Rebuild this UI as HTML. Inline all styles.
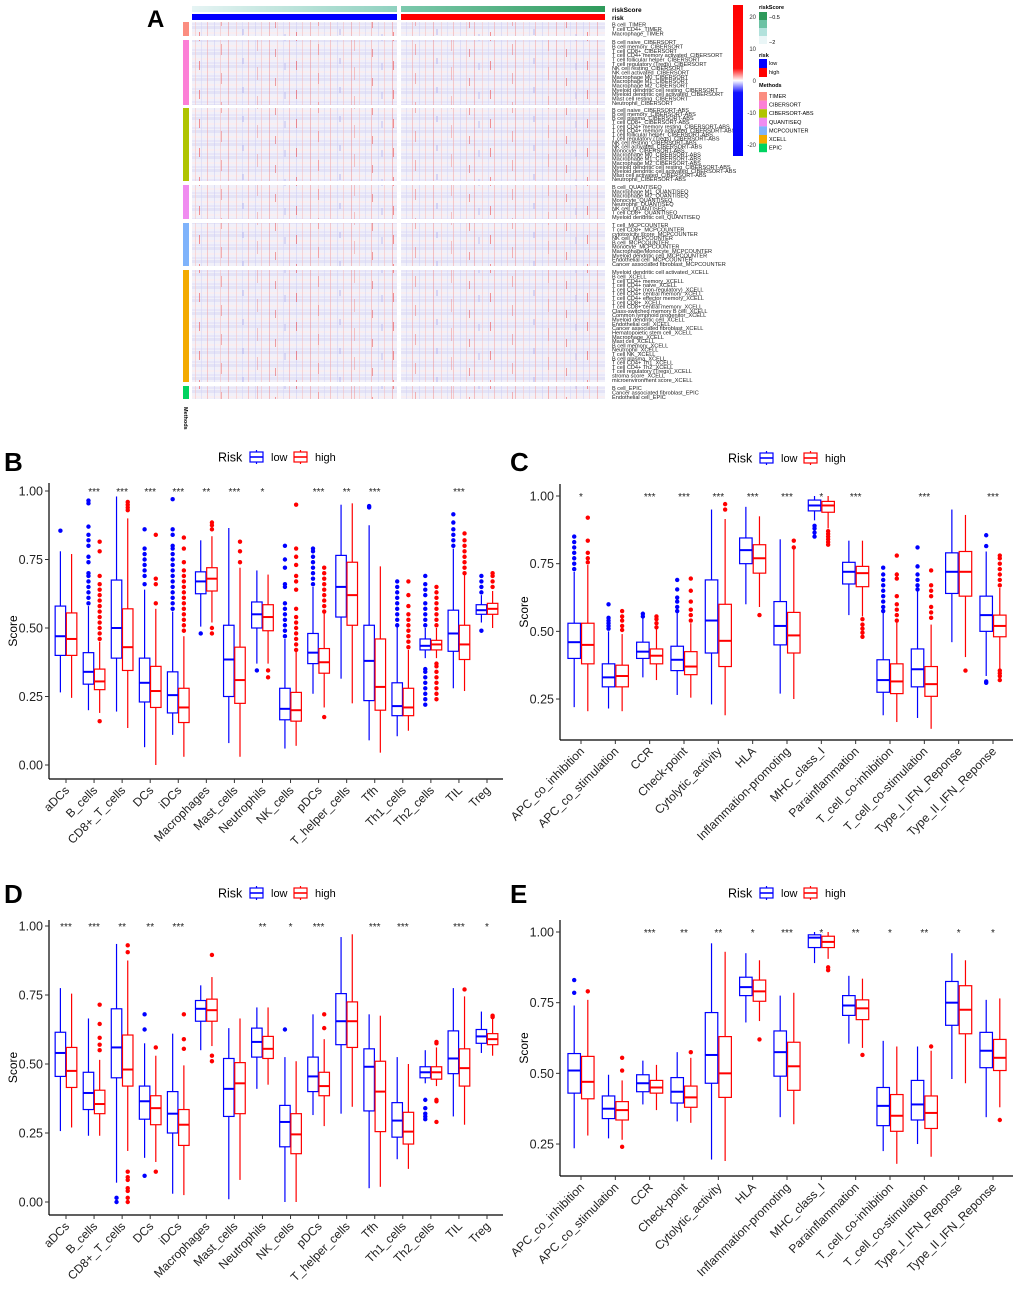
<!DOCTYPE html>
<html><head><meta charset="utf-8"><style>
body{margin:0;background:#fff;}
svg{display:block;font-family:"Liberation Sans",Arial,sans-serif;}
</style></head><body>
<svg id="fig" width="1020" height="1292" viewBox="0 0 1020 1292" xmlns="http://www.w3.org/2000/svg">
<defs>
<pattern id="hmRows" width="10" height="13" patternUnits="userSpaceOnUse">
<rect width="10" height="13" fill="#f1f0f9"/>
<rect y="0" width="10" height="3" fill="#e4e3f6"/>
<rect y="6" width="10" height="2" fill="#f8eef2"/>
<rect y="10" width="10" height="2" fill="#e8e6f8"/>
</pattern>
<pattern id="hmA" width="41" height="400" patternUnits="userSpaceOnUse">
<rect x="2" width="1" height="400" fill="#f3a5a5" opacity="0.55"/>
<rect x="9" width="1" height="400" fill="#c9c9f3" opacity="0.5"/>
<rect x="15" width="1" height="400" fill="#f6b8b8" opacity="0.5"/>
<rect x="23" width="1" height="400" fill="#ef8080" opacity="0.45"/>
<rect x="31" width="1" height="400" fill="#f7c6c6" opacity="0.6"/>
<rect x="37" width="1" height="400" fill="#d2d2f5" opacity="0.5"/>
</pattern>
<pattern id="hmB" width="97" height="29" patternUnits="userSpaceOnUse">
<rect x="5" y="3" width="1" height="9" fill="#ee5050" opacity="0.6"/>
<rect x="27" y="15" width="1" height="11" fill="#f07070" opacity="0.5"/>
<rect x="48" y="0" width="2" height="6" fill="#b8b8f0" opacity="0.5"/>
<rect x="63" y="9" width="1" height="13" fill="#f29090" opacity="0.5"/>
<rect x="81" y="20" width="1" height="8" fill="#e84a4a" opacity="0.5"/>
<rect x="90" y="5" width="2" height="7" fill="#c0c0f2" opacity="0.5"/>
</pattern>
<linearGradient id="rs1" x1="0" x2="1"><stop offset="0" stop-color="#e6f4f4"/><stop offset="1" stop-color="#8fd1bf"/></linearGradient>
<linearGradient id="rs2" x1="0" x2="1"><stop offset="0" stop-color="#7cc9ad"/><stop offset="1" stop-color="#2e9a5a"/></linearGradient>
<linearGradient id="cb" x1="0" y1="0" x2="0" y2="1"><stop offset="0" stop-color="#ff0000"/><stop offset="0.42" stop-color="#ff1010"/><stop offset="0.5" stop-color="#ffffff"/><stop offset="0.58" stop-color="#1010ff"/><stop offset="1" stop-color="#0000ff"/></linearGradient>
</defs>
<g id="panelA"></g>
<g id="panelB"></g>
<g id="panelC"></g>
<g id="panelD"></g>
<g id="panelE"></g>
</svg>
<script>
// ---------- Data ----------
const catsCells = ["aDCs","B_cells","CD8+_T_cells","DCs","iDCs","Macrophages","Mast_cells","Neutrophils","NK_cells","pDCs","T_helper_cells","Tfh","Th1_cells","Th2_cells","TIL","Treg"];
const catsFunc = ["APC_co_inhibition","APC_co_stimulation","CCR","Check-point","Cytolytic_activity","HLA","Inflammation-promoting","MHC_class_I","Parainflammation","T_cell_co-inhibition","T_cell_co-stimulation","Type_I_IFN_Reponse","Type_II_IFN_Reponse"];

const lowB = [[0.265,0.40,0.47,0.58,0.78],[0.20,0.295,0.34,0.41,0.58],[0.195,0.39,0.50,0.675,0.98],[0.065,0.23,0.30,0.39,0.64],[0.11,0.19,0.255,0.34,0.56],[0.505,0.625,0.67,0.705,0.82],[0.08,0.25,0.385,0.51,0.865],[0.37,0.50,0.55,0.595,0.71],[0.06,0.165,0.205,0.28,0.46],[0.26,0.37,0.41,0.48,0.65],[0.315,0.54,0.65,0.765,0.95],[0.09,0.235,0.38,0.51,0.875],[0.105,0.18,0.215,0.30,0.505],[0.39,0.42,0.435,0.46,0.50],[0.28,0.415,0.48,0.565,0.79],[0.52,0.55,0.565,0.585,0.62]];
const highB = [[0.245,0.40,0.46,0.555,0.77],[0.19,0.275,0.305,0.35,0.45],[0.135,0.345,0.43,0.57,0.90],[0.0,0.21,0.27,0.36,0.57],[0.03,0.155,0.21,0.28,0.47],[0.52,0.635,0.68,0.72,0.835],[0.03,0.225,0.31,0.43,0.72],[0.37,0.49,0.54,0.585,0.695],[0.07,0.16,0.20,0.265,0.415],[0.21,0.335,0.375,0.425,0.555],[0.225,0.51,0.62,0.74,0.955],[0.045,0.20,0.285,0.46,0.725],[0.125,0.18,0.21,0.28,0.42],[0.39,0.42,0.44,0.455,0.50],[0.27,0.385,0.44,0.51,0.695],[0.50,0.55,0.57,0.59,0.635]];
const lowOutB = [[0.855],[0.59,0.61,0.63,0.65,0.67,0.69,0.70,0.74,0.76,0.80,0.82,0.84,0.87,0.955,0.965],[],[0.66,0.69,0.71,0.73,0.75,0.77,0.79,0.86],[0.57,0.59,0.61,0.63,0.65,0.67,0.69,0.71,0.73,0.75,0.77,0.79,0.80,0.84,0.86,0.97],[0.48],[],[0.345],[0.47,0.49,0.51,0.53,0.55,0.57,0.59,0.65,0.66,0.72,0.75,0.80],[0.66,0.68,0.70,0.72,0.74,0.76,0.78,0.79],[],[0.94,0.945],[0.51,0.53,0.55,0.57,0.59,0.61,0.63,0.65,0.67],[0.22,0.24,0.26,0.28,0.30,0.32,0.34,0.35,0.51,0.53,0.55,0.57,0.59,0.62,0.64,0.66,0.69],[0.80,0.82,0.84,0.86,0.885,0.915],[0.49,0.63,0.65,0.67,0.69]];
const highOutB = [[],[0.16,0.46,0.48,0.50,0.52,0.54,0.56,0.58,0.60,0.62,0.64,0.66,0.69,0.78,0.815],[0.93,0.94,0.95,0.96],[0.59,0.66,0.68,0.84],[0.49,0.51,0.53,0.55,0.57,0.59,0.61,0.63,0.65,0.67,0.69,0.71,0.74,0.79,0.83],[0.48,0.50,0.86,0.875,0.885],[0.74,0.78,0.815],[0.345,0.32],[0.42,0.44,0.46,0.48,0.50,0.52,0.54,0.57,0.64,0.67,0.69,0.73,0.76,0.79,0.95],[0.175,0.56,0.58,0.60,0.62,0.64,0.66,0.68,0.70,0.72],[],[],[0.43,0.45,0.47,0.49,0.51,0.53,0.55,0.58,0.62,0.67],[0.24,0.26,0.28,0.30,0.32,0.34,0.36,0.37,0.51,0.53,0.55,0.57,0.59,0.61,0.63,0.65],[0.70,0.72,0.74,0.76,0.78,0.80,0.82,0.845],[0.65,0.67,0.69,0.70]];
const starsB = ["","***","***","***","***","**","***","*","","***","**","***","","","***",""];

const lowC = [[0.22,0.40,0.46,0.53,0.72],[0.215,0.295,0.33,0.38,0.50],[0.33,0.40,0.425,0.46,0.55],[0.265,0.355,0.395,0.445,0.57],[0.23,0.42,0.54,0.69,0.95],[0.60,0.75,0.80,0.845,0.96],[0.27,0.45,0.52,0.61,0.84],[0.91,0.945,0.965,0.985,1.0],[0.56,0.675,0.72,0.755,0.835],[0.19,0.275,0.32,0.395,0.57],[0.18,0.295,0.36,0.435,0.65],[0.46,0.64,0.72,0.79,0.95],[0.335,0.50,0.56,0.63,0.795]];
const highC = [[0.205,0.38,0.45,0.53,0.745],[0.205,0.295,0.335,0.375,0.49],[0.32,0.38,0.41,0.435,0.51],[0.255,0.34,0.37,0.425,0.53],[0.19,0.37,0.465,0.60,0.915],[0.59,0.715,0.77,0.82,0.925],[0.25,0.42,0.485,0.57,0.805],[0.88,0.94,0.965,0.98,1.0],[0.555,0.665,0.715,0.74,0.835],[0.165,0.27,0.315,0.38,0.535],[0.14,0.26,0.305,0.37,0.525],[0.405,0.63,0.72,0.795,0.93],[0.36,0.48,0.52,0.56,0.66]];
const lowOutC = [[0.73,0.75,0.77,0.79,0.81,0.83,0.85],[0.51,0.52,0.53,0.54,0.55,0.60],[0.555,0.565],[0.575,0.59,0.61,0.625,0.655,0.69],[],[],[],[0.85,0.865,0.88,0.89],[],[0.575,0.59,0.61,0.63,0.65,0.67,0.69,0.71,0.735],[0.655,0.67,0.69,0.71,0.74,0.81],[],[0.31,0.315,0.815,0.855]];
const highOutC = [[0.755,0.77,0.79,0.835,0.92],[0.505,0.52,0.54,0.555,0.575],[0.515,0.53,0.545,0.555],[0.54,0.56,0.58,0.61,0.65,0.695],[0.95,0.97],[0.56],[0.81,0.835],[0.82,0.83,0.84,0.85,0.86,0.87],[0.48,0.495,0.51,0.525,0.545],[0.54,0.56,0.58,0.60,0.63,0.695,0.71,0.78],[0.55,0.57,0.59,0.63,0.65,0.67,0.725],[0.355],[0.32,0.335,0.345,0.355,0.67,0.69,0.71,0.73,0.75,0.77,0.78]];
const starsC = ["*","","***","***","***","***","***","*","***","","***","","***"];

const lowD = [[0.257,0.455,0.54,0.615,0.775],[0.24,0.335,0.395,0.47,0.665],[0.07,0.45,0.56,0.70,0.935],[0.16,0.30,0.365,0.42,0.575],[0.03,0.25,0.32,0.40,0.61],[0.55,0.655,0.70,0.73,0.785],[0.01,0.31,0.41,0.52,0.63],[0.41,0.525,0.58,0.63,0.705],[0.0,0.20,0.29,0.35,0.525],[0.315,0.40,0.455,0.525,0.68],[0.32,0.57,0.655,0.755,0.96],[0.05,0.33,0.49,0.555,0.68],[0.155,0.235,0.295,0.36,0.525],[0.43,0.45,0.47,0.49,0.55],[0.31,0.465,0.52,0.62,0.775],[0.54,0.575,0.60,0.625,0.69]];
const highD = [[0.27,0.415,0.475,0.56,0.755],[0.24,0.32,0.355,0.405,0.515],[0.185,0.42,0.48,0.605,0.875],[0.145,0.28,0.34,0.385,0.53],[0.025,0.205,0.28,0.335,0.495],[0.565,0.655,0.695,0.735,0.815],[0.08,0.32,0.43,0.505,0.665],[0.425,0.52,0.555,0.60,0.705],[0.0,0.175,0.245,0.32,0.51],[0.275,0.385,0.42,0.47,0.59],[0.345,0.56,0.655,0.725,0.97],[0.055,0.255,0.40,0.51,0.675],[0.12,0.21,0.255,0.325,0.50],[0.42,0.445,0.47,0.49,0.56],[0.28,0.42,0.485,0.555,0.745],[0.53,0.57,0.59,0.61,0.665]];
const lowOutD = [[],[],[0.0,0.015],[0.095,0.625,0.68],[],[],[],[],[0.625],[],[],[],[],[0.30,0.31,0.32,0.34,0.37],[],[]];
const highOutD = [[],[0.55,0.57,0.595,0.645,0.715],[0.0,0.015,0.04,0.05,0.08,0.09,0.11,0.905,0.93],[0.11,0.56],[0.555,0.59,0.68],[0.51,0.53,0.895],[],[],[],[0.63,0.68],[],[],[],[0.29,0.365,0.37,0.575,0.58],[0.77],[0.67,0.675]];
const starsD = ["***","***","**","**","***","","","**","*","***","","***","***","","***","*"];

const lowE = [[0.235,0.43,0.51,0.57,0.74],[0.27,0.34,0.375,0.42,0.495],[0.39,0.435,0.465,0.495,0.545],[0.33,0.395,0.435,0.485,0.575],[0.195,0.465,0.565,0.715,0.96],[0.68,0.775,0.805,0.84,0.925],[0.345,0.49,0.575,0.65,0.775],[0.89,0.945,0.98,0.99,1.0],[0.605,0.705,0.74,0.775,0.845],[0.225,0.315,0.385,0.45,0.615],[0.25,0.335,0.39,0.475,0.595],[0.48,0.67,0.75,0.825,0.925],[0.345,0.52,0.58,0.645,0.76]];
const highE = [[0.28,0.41,0.47,0.56,0.76],[0.265,0.335,0.37,0.40,0.475],[0.37,0.43,0.45,0.475,0.53],[0.325,0.38,0.415,0.455,0.555],[0.19,0.415,0.50,0.63,0.93],[0.685,0.755,0.79,0.83,0.90],[0.32,0.44,0.525,0.61,0.785],[0.905,0.945,0.965,0.985,1.0],[0.59,0.69,0.73,0.76,0.835],[0.18,0.295,0.35,0.425,0.595],[0.205,0.305,0.36,0.42,0.58],[0.465,0.64,0.725,0.81,0.90],[0.38,0.51,0.555,0.62,0.765]];
const lowOutE = [[0.785,0.83],[],[],[],[],[],[],[],[],[],[],[],[]];
const highOutE = [[0.79],[0.24,0.51,0.555],[],[0.575],[],[0.62],[],[0.865,0.875],[0.565],[],[0.595],[],[0.335]];
const starsE = ["","","***","**","**","*","***","*","**","*","**","*","*"];

const methods = ["TIMER","CIBERSORT","CIBERSORT-ABS","QUANTISEQ","MCPCOUNTER","XCELL","EPIC"];
const methodColors = ["#fb8d80","#fc7fd6","#b0c400","#f08cf0","#7fb3fb","#f3aa00","#00d360"];
const rowLabels = [
["B cell_TIMER","T cell CD4+_TIMER","Macrophage_TIMER"],
["B cell naive_CIBERSORT","B cell memory_CIBERSORT","T cell CD8+_CIBERSORT","T cell CD4+ memory activated_CIBERSORT","T cell follicular helper_CIBERSORT","T cell regulatory (Tregs)_CIBERSORT","NK cell resting_CIBERSORT","NK cell activated_CIBERSORT","Macrophage M0_CIBERSORT","Macrophage M1_CIBERSORT","Macrophage M2_CIBERSORT","Myeloid dendritic cell resting_CIBERSORT","Myeloid dendritic cell activated_CIBERSORT","Mast cell resting_CIBERSORT","Neutrophil_CIBERSORT"],
["B cell naive_CIBERSORT-ABS","B cell memory_CIBERSORT-ABS","B cell plasma_CIBERSORT-ABS","T cell CD8+_CIBERSORT-ABS","T cell CD4+ memory resting_CIBERSORT-ABS","T cell CD4+ memory activated_CIBERSORT-ABS","T cell follicular helper_CIBERSORT-ABS","T cell regulatory (Tregs)_CIBERSORT-ABS","NK cell resting_CIBERSORT-ABS","NK cell activated_CIBERSORT-ABS","Monocyte_CIBERSORT-ABS","Macrophage M0_CIBERSORT-ABS","Macrophage M1_CIBERSORT-ABS","Macrophage M2_CIBERSORT-ABS","Myeloid dendritic cell resting_CIBERSORT-ABS","Myeloid dendritic cell activated_CIBERSORT-ABS","Mast cell activated_CIBERSORT-ABS","Neutrophil_CIBERSORT-ABS"],
["B cell_QUANTISEQ","Macrophage M1_QUANTISEQ","Macrophage M2_QUANTISEQ","Monocyte_QUANTISEQ","Neutrophil_QUANTISEQ","NK cell_QUANTISEQ","T cell CD8+_QUANTISEQ","Myeloid dendritic cell_QUANTISEQ"],
["T cell_MCPCOUNTER","T cell CD8+_MCPCOUNTER","cytotoxicity score_MCPCOUNTER","NK cell_MCPCOUNTER","B cell_MCPCOUNTER","Monocyte_MCPCOUNTER","Macrophage/Monocyte_MCPCOUNTER","Myeloid dendritic cell_MCPCOUNTER","Endothelial cell_MCPCOUNTER","Cancer associated fibroblast_MCPCOUNTER"],
["Myeloid dendritic cell activated_XCELL","B cell_XCELL","T cell CD4+ memory_XCELL","T cell CD4+ naive_XCELL","T cell CD4+ (non-regulatory)_XCELL","T cell CD4+ central memory_XCELL","T cell CD4+ effector memory_XCELL","T cell CD8+_XCELL","T cell CD8+ central memory_XCELL","Class-switched memory B cell_XCELL","Common lymphoid progenitor_XCELL","Myeloid dendritic cell_XCELL","Endothelial cell_XCELL","Cancer associated fibroblast_XCELL","Hematopoietic stem cell_XCELL","Macrophage_XCELL","Mast cell_XCELL","B cell memory_XCELL","Neutrophil_XCELL","T cell NK_XCELL","B cell plasma_XCELL","T cell CD4+ Th1_XCELL","T cell CD4+ Th2_XCELL","T cell regulatory (Tregs)_XCELL","stroma score_XCELL","microenvironment score_XCELL"],
["B cell_EPIC","Cancer associated fibroblast_EPIC","Endothelial cell_EPIC"]];
const groupTop = [22,40,108,185,223,270,386];
const groupBottom = [36,105,181,219,266,382,399];
const cbTicks = [20,10,0,-10,-20];

const NS="http://www.w3.org/2000/svg";
function mk(parent,tag,attrs,text){const e=document.createElementNS(NS,tag);for(const k in attrs)e.setAttribute(k,attrs[k]);if(text!==undefined)e.textContent=text;parent.appendChild(e);return e;}

// ---------- Panel A ----------
(function(){
const g=document.getElementById('panelA');
const t=mk(g,'text',{x:147,y:27,'font-size':24,'font-weight':'bold'},'A');


const r1=mk(g,'rect',{x:192,y:6,width:205,height:6,fill:'url(#rs1)'});


const r2=mk(g,'rect',{x:401,y:6,width:204,height:6,fill:'url(#rs2)'});


const r3=mk(g,'rect',{x:192,y:14,width:205,height:6,fill:'#0000ff'});


const r4=mk(g,'rect',{x:401,y:14,width:204,height:6,fill:'#ff0000'});


const l1=mk(g,'text',{x:612,y:12,'font-size':6.5,'font-weight':'bold'},'riskScore');


const l2=mk(g,'text',{x:612,y:20,'font-size':6.5,'font-weight':'bold'},'risk');


methods.forEach((m,i)=>{
 const y0=groupTop[i],y1=groupBottom[i],h=y1-y0;
 const s=mk(g,'rect',{x:183,y:y0,width:6,height:h,fill:methodColors[i]});
 
 
 [[192,205],[401,204]].forEach(([x,w],j)=>{
  const c=mk(g,'rect',{x:x,y:y0,width:w,height:h,fill:'url(#hmRows)'});
  
  
  mk(g,'rect',{x:x,y:y0,width:w,height:h,fill:'url(#hmA)'});
  mk(g,'rect',{x:x,y:y0,width:w,height:h,fill:'url(#hmB)'});
 });
 const labs=rowLabels[i];const step=h/labs.length;
 labs.forEach((lab,k)=>{
  const tt=mk(g,'text',{x:612,y:y0+step*(k+0.5)+2,'font-size':5.6,fill:'#222'},lab);
  
  
 });
});
const mt=mk(g,'text',{x:0,y:0,'font-size':5.5,'font-weight':'bold',transform:'translate(184,407) rotate(90)'},'Methods');


const cb=mk(g,'rect',{x:733,y:5,width:10,height:151,fill:'url(#cb)'});


cbTicks.forEach((v)=>{
 const y=81-(v/20)*64;
 const tt=mk(g,'text',{x:756,y:y+2,'font-size':6,'text-anchor':'end',fill:'#333'},String(v));
 
 
});
const lg=mk(g,'g',{});


mk(lg,'text',{x:759,y:9,'font-size':5.5,'font-weight':'bold'},'riskScore');
['#2e9a5a','#6cc2a4','#b2e2dc','#eaf6f7'].forEach((c,i)=>mk(lg,'rect',{x:759,y:12+i*8,width:8,height:8,fill:c}));
mk(lg,'text',{x:769,y:19,'font-size':5.5},'−0.5');
mk(lg,'text',{x:769,y:44,'font-size':5.5},'−2');
mk(lg,'text',{x:759,y:57,'font-size':5.5,'font-weight':'bold'},'risk');
mk(lg,'rect',{x:759,y:59,width:8,height:9,fill:'#0000ff'});
mk(lg,'rect',{x:759,y:68,width:8,height:9,fill:'#ff0000'});
mk(lg,'text',{x:769,y:65,'font-size':5.5},'low');
mk(lg,'text',{x:769,y:74,'font-size':5.5},'high');
mk(lg,'text',{x:759,y:87,'font-size':5.5,'font-weight':'bold'},'Methods');
methods.forEach((m,i)=>{mk(lg,'rect',{x:759,y:92+i*8.6,width:8,height:8.6,fill:methodColors[i]});mk(lg,'text',{x:769,y:98+i*8.6,'font-size':5.5},m);});
})();

function drawPanel(cfg){
 const g=document.getElementById(cfg.id);
 const sy=v=>cfg.y0+(cfg.y1-cfg.y0)*v;
 const L=mk(g,'text',{x:cfg.letterX,y:cfg.letterY,'font-size':26,'font-weight':'bold'},cfg.letter);
 
 
 const lg=mk(g,'g',{});
 
 
 const ly=cfg.legY;
 mk(lg,'text',{x:cfg.legX,y:ly+4.5,'font-size':12.5},'Risk');
 [['#0000ff','low',cfg.legX+32],['#ff0000','high',cfg.legX+76]].forEach(([c,t,x])=>{
  const e=mk(lg,'g',{});
  
  
  mk(e,'rect',{x:x,y:ly-5,width:13,height:10,fill:'none',stroke:c,'stroke-width':1.2});
  mk(e,'line',{x1:x,x2:x+13,y1:ly,y2:ly,stroke:c,'stroke-width':1.6});
  mk(e,'line',{x1:x+6.5,x2:x+6.5,y1:ly-7,y2:ly-5,stroke:c,'stroke-width':1.2});
  mk(e,'line',{x1:x+6.5,x2:x+6.5,y1:ly+5,y2:ly+7,stroke:c,'stroke-width':1.2});
  mk(e,'text',{x:x+21,y:ly+4,'font-size':11},t);
 });
 const ax=mk(g,'g',{});
 
 
 mk(ax,'line',{x1:cfg.ax,x2:cfg.ax,y1:cfg.top,y2:cfg.axY,stroke:'#000','stroke-width':1.2});
 mk(ax,'line',{x1:cfg.ax,x2:cfg.right,y1:cfg.axY,y2:cfg.axY,stroke:'#000','stroke-width':1.2});
 cfg.ticks.forEach(v=>{
  const y=sy(v);
  mk(ax,'line',{x1:cfg.ax-4,x2:cfg.ax,y1:y,y2:y,stroke:'#333','stroke-width':1});
  const t=mk(ax,'text',{x:cfg.ax-6,y:y+4.5,'font-size':12.5,'text-anchor':'end',fill:'#222'},v.toFixed(2));
  
  
 });
 const yl=mk(ax,'text',{x:0,y:0,'font-size':12,'text-anchor':'middle',transform:`translate(${cfg.ax-32},${(cfg.top+cfg.axY)/2}) rotate(-90)`},'Score');
 
 
 const n=cfg.cats.length, dx=(cfg.lastX-cfg.firstX)/(n-1);
 cfg.cats.forEach((c,i)=>{
  const cx=cfg.firstX+i*dx;
  mk(ax,'line',{x1:cx,x2:cx,y1:cfg.axY,y2:cfg.axY+4,stroke:'#333','stroke-width':1});
  const t=mk(ax,'text',{x:0,y:0,'font-size':12,'text-anchor':'end',fill:'#222',transform:`translate(${cx+4},${cfg.axY+12}) rotate(-45)`},c);
  
  
  if(cfg.stars[i]){
   const s=mk(g,'text',{x:cx,y:sy(1.0)+4,'font-size':10,'text-anchor':'middle',fill:'#222'},cfg.stars[i]);
   
   
  }
  [[cfg.low[i],cfg.lowOut[i],'#0000ff',-cfg.off,'low'],[cfg.high[i],cfg.highOut[i],'#ff0000',cfg.off,'high']].forEach(([st,outs,col,o,nm])=>{
   const bx=cx+o, w=cfg.bw;
   const bg=mk(g,'g',{});
   
   
   mk(bg,'line',{x1:bx,x2:bx,y1:sy(st[0]),y2:sy(st[1]),stroke:col,'stroke-width':1.2});
   mk(bg,'line',{x1:bx,x2:bx,y1:sy(st[3]),y2:sy(st[4]),stroke:col,'stroke-width':1.2});
   mk(bg,'rect',{x:bx-w/2,y:sy(st[3]),width:w,height:sy(st[1])-sy(st[3]),fill:'#fff',stroke:col,'stroke-width':1.2});
   mk(bg,'line',{x1:bx-w/2,x2:bx+w/2,y1:sy(st[2]),y2:sy(st[2]),stroke:col,'stroke-width':2});
   outs.forEach(v=>{
    const p=mk(bg,'circle',{cx:bx,cy:sy(v),r:2.2,fill:col});
    
    
   });
  });
 });
}
drawPanel({id:'panelB',letter:'B',letterX:4,letterY:471,legX:218,legY:457,ax:49,right:503,top:483,axY:779,y1:491,y0:765,ticks:[0,0.25,0.5,0.75,1],cats:catsCells,firstX:66,lastX:487,off:5.6,bw:10.5,low:lowB,high:highB,lowOut:lowOutB,highOut:highOutB,stars:starsB});
drawPanel({id:'panelC',letter:'C',letterX:510,letterY:471,legX:728,legY:458,ax:560,right:1013,top:484,axY:740,y1:496,y0:766.7,ticks:[0.25,0.5,0.75,1],cats:catsFunc,firstX:581,lastX:993,off:6.8,bw:12.5,low:lowC,high:highC,lowOut:lowOutC,highOut:highOutC,stars:starsC});
drawPanel({id:'panelD',letter:'D',letterX:4,letterY:903,legX:218,legY:893,ax:49,right:503,top:920,axY:1215,y1:926,y0:1202,ticks:[0,0.25,0.5,0.75,1],cats:catsCells,firstX:66,lastX:487,off:5.6,bw:10.5,low:lowD,high:highD,lowOut:lowOutD,highOut:highOutD,stars:starsD});
drawPanel({id:'panelE',letter:'E',letterX:510,letterY:903,legX:728,legY:893,ax:560,right:1013,top:920,axY:1176,y1:932,y0:1214.7,ticks:[0.25,0.5,0.75,1],cats:catsFunc,firstX:581,lastX:993,off:6.8,bw:12.5,low:lowE,high:highE,lowOut:lowOutE,highOut:highOutE,stars:starsE});
</script>
</body></html>
